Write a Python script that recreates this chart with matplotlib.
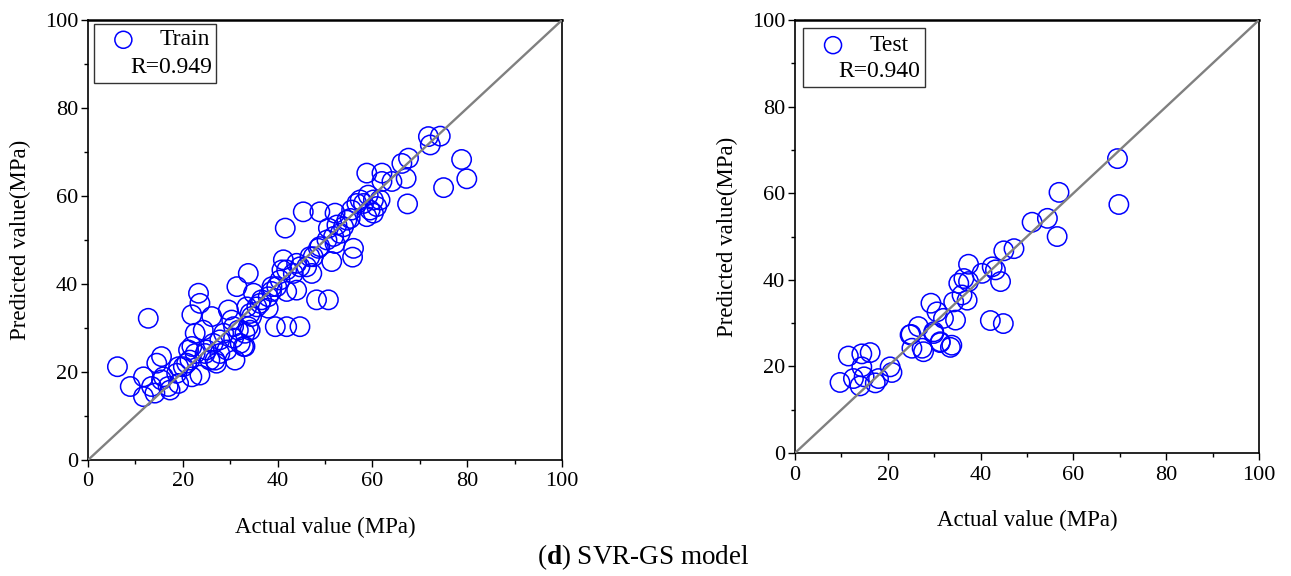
import numpy as np
import matplotlib
matplotlib.use("Agg")
import matplotlib.pyplot as plt
from matplotlib.patches import Rectangle
from matplotlib.ticker import MultipleLocator

plt.rcParams['font.family'] = ['Liberation Serif', 'DejaVu Serif']
plt.rcParams['mathtext.fontset'] = 'custom'
plt.rcParams['mathtext.rm'] = 'Liberation Serif'
plt.rcParams['mathtext.bf'] = 'Liberation Serif:bold'

# training set: actual vs predicted (MPa)
train_actual = [6.2, 8.9, 11.7, 11.7, 12.7, 13.4, 14.1, 14.5, 15.5, 15.5, 17.3, 19.1, 19.1,
                20.8, 21.2, 21.9, 23.3, 23.6, 21.9, 22.6, 24.3, 23.6, 25.7, 26.1, 25.0,
                27.1, 27.8, 29.6, 30.3, 30.7, 31.0, 31.4, 32.8, 33.8, 33.5, 34.5, 34.2,
                34.9, 36.3, 38.0, 38.8, 39.5, 41.9, 44.7, 40.9, 41.2, 41.6, 41.9, 44.0,
                44.0, 43.3, 45.4, 46.8, 47.2, 48.2, 50.7, 48.9, 48.6, 51.4, 52.1, 50.7,
                52.5, 53.2, 52.1, 56.0, 55.8, 55.6, 55.3, 57.4, 58.8, 59.5, 59.1, 58.8,
                60.9, 60.2, 62.0, 62.0, 64.1, 66.2, 67.6, 67.1, 67.4, 71.8, 72.2, 74.3,
                75.0, 78.8, 79.9,
                15.9, 16.9, 18.7, 20.1, 21.5, 21.9, 22.6, 24.7, 26.4, 26.8, 27.8, 28.6,
                29.3, 30.7, 31.7, 32.1, 33.1, 33.1, 33.8, 34.2, 35.6, 36.6, 38.0, 38.7,
                39.8, 40.5, 41.9, 44.7, 46.1, 47.5, 48.9, 50.4, 51.8, 53.9, 54.6, 56.7,
                58.1, 60.2, 61.6]
train_pred = [21.2, 16.7, 18.9, 14.4, 32.2, 16.7, 15.2, 22.0, 23.5, 18.2, 15.9, 17.4, 21.2,
              22.0, 25.0, 18.9, 37.9, 35.6, 33.0, 28.8, 29.5, 19.3, 22.7, 32.6, 25.0,
              22.0, 27.3, 34.1, 31.8, 27.7, 22.7, 39.4, 25.8, 42.4, 34.8, 32.6, 29.5,
              37.9, 35.6, 34.5, 39.4, 30.3, 30.3, 30.3, 43.2, 45.5, 52.7, 38.3, 38.6,
              44.7, 42.4, 56.4, 46.2, 42.4, 36.4, 36.4, 56.4, 48.1, 45.1, 56.1, 52.7,
              53.4, 51.5, 49.2, 48.1, 46.1, 56.8, 54.9, 59.1, 55.3, 56.8, 60.2, 65.2,
              57.6, 59.1, 65.2, 63.3, 63.3, 67.4, 68.6, 64.0, 58.2, 73.5, 71.6, 73.6,
              61.9, 68.3, 63.9,
              18.9, 16.7, 19.7, 21.2, 22.7, 25.8, 24.2, 24.2, 26.5, 22.7, 24.2, 28.8,
              25.0, 30.3, 29.5, 26.5, 28.8, 25.8, 30.3, 33.3, 34.8, 36.4, 37.1, 38.3,
              39.4, 40.9, 43.2, 43.9, 43.9, 46.2, 48.5, 50.0, 50.8, 53.0, 54.5, 58.3,
              58.3, 56.1, 59.1]

# test set
test_actual = [9.7, 11.5, 14.4, 16.2, 14.4, 12.6, 14.0, 14.9, 17.3, 18.0, 20.5, 20.9,
               24.8, 25.2, 27.4, 27.7, 29.9, 31.3, 33.5, 69.5, 69.8,
               56.9, 51.1, 54.4, 56.5, 45.0, 47.2, 42.5, 43.2, 44.3, 40.3, 37.4, 35.3,
               36.4, 37.4, 37.1, 36.0, 34.2, 29.3, 30.6, 32.0, 34.6, 42.1, 44.9, 26.6,
               25.0, 29.9, 31.3, 33.8]
test_pred = [16.3, 22.4, 22.9, 23.2, 19.9, 17.2, 15.5, 17.6, 16.2, 17.2, 19.9, 18.6,
             27.3, 24.2, 24.2, 23.4, 27.6, 25.5, 24.4, 68.0, 57.4,
             60.2, 53.3, 54.2, 50.0, 46.7, 47.2, 43.0, 42.3, 39.6, 41.5, 43.6, 39.2,
             40.3, 39.6, 35.3, 36.5, 34.9, 34.6, 32.6, 31.1, 30.7, 30.6, 29.9, 29.2,
             27.4, 28.0, 25.7, 24.9]

panels = [
    (train_actual, train_pred, "Train", "R=0.949", [0.0682, 0.2014, 0.3672, 0.7639],
     (0.013, 0.857, 0.257, 0.135), (0.0745, 0.955), (0.257, 0.955), (0.261, 0.891)),
    (test_actual, test_pred, "Test", "R=0.940", [0.6158, 0.2135, 0.3594, 0.7517],
     (0.017, 0.845, 0.264, 0.137), (0.082, 0.942), (0.244, 0.942), (0.270, 0.881)),
]

fig = plt.figure(figsize=(12.91, 5.76), dpi=100)

for xs, ys, name, rtxt, rect, box, mpos, npos, rpos in panels:
    ax = fig.add_axes(rect)
    ax.plot([0, 100], [0, 100], color='#808080', lw=1.7, zorder=3)
    ax.scatter(xs, ys, s=195, facecolors='none', edgecolors='#0000ff', linewidths=1.1, zorder=2)
    ax.set_xlim(0, 100)
    ax.set_ylim(0, 100)
    ax.xaxis.set_major_locator(MultipleLocator(20))
    ax.xaxis.set_minor_locator(MultipleLocator(10))
    ax.yaxis.set_major_locator(MultipleLocator(20))
    ax.yaxis.set_minor_locator(MultipleLocator(10))
    ax.tick_params(which='major', direction='out', length=5, width=1.0, labelsize=16, pad=2)
    ax.tick_params(axis='x', which='major', pad=4)
    ax.tick_params(which='minor', direction='out', length=3, width=1.0)
    for sp in ax.spines.values():
        sp.set_linewidth(1.2)
    ax.spines['top'].set_linewidth(1.8)
    ax.set_xlabel("Actual value (MPa)", fontsize=16.5, labelpad=18)
    ax.set_ylabel("Predicted value(MPa)", fontsize=16.5, labelpad=10)

    # legend box
    ax.add_patch(Rectangle((box[0], box[1]), box[2], box[3], transform=ax.transAxes,
                           facecolor='white', edgecolor='#333333', lw=1.0, zorder=5))
    ax.scatter([mpos[0]], [mpos[1]], s=150, facecolors='none', edgecolors='#0000ff',
               linewidths=1.1, transform=ax.transAxes, zorder=6, clip_on=False)
    ax.text(npos[0], npos[1], name, transform=ax.transAxes, ha='right', va='center',
            fontsize=17, zorder=6)
    ax.text(rpos[0], rpos[1], rtxt, transform=ax.transAxes, ha='right', va='center',
            fontsize=17, zorder=6)

fig.text(0.498, 0.033, r"($\mathbf{d}$) SVR-GS model", ha='center', va='center', fontsize=19.5)

plt.savefig("out.png", dpi=100)
